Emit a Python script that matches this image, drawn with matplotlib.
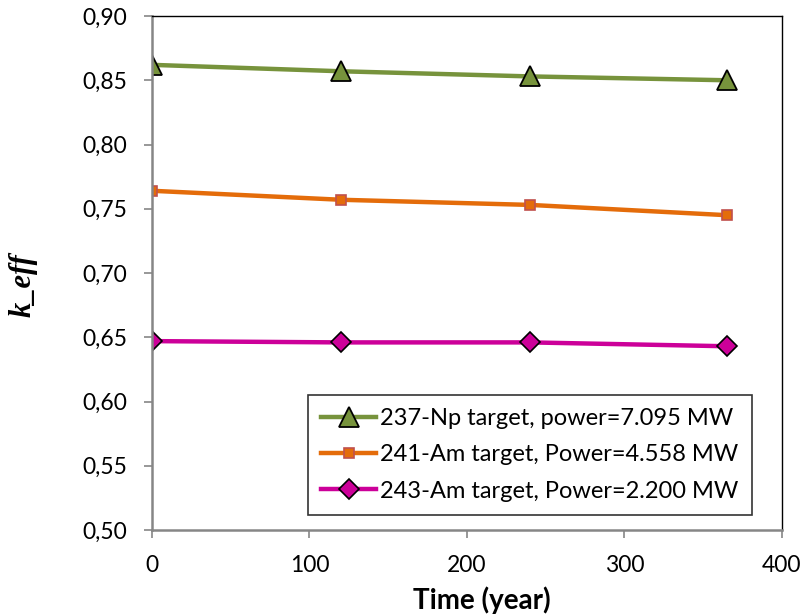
import matplotlib.pyplot as plt
import numpy as np

plt.rcParams['font.family'] = ['Lato', 'DejaVu Sans']

## Data
time = [0, 120, 240, 365]
np237 = [0.862, 0.857, 0.853, 0.850]
am241 = [0.764, 0.757, 0.753, 0.745]
am243 = [0.647, 0.646, 0.646, 0.643]
labels = ['237-Np target, power=7.095 MW',
          '241-Am target, Power=4.558 MW',
          '243-Am target, Power=2.200 MW']

fig = plt.figure(figsize=(8.05, 6.16), dpi=100)
ax = fig.add_axes([0.1888, 0.1396, 0.7826, 0.8344])

ax.plot(time, np237, color='#77933C', lw=3.2, marker='^', ms=14,
        mfc='#77933C', mec='black', mew=1.3, label=labels[0])
ax.plot(time, am241, color='#E46C0A', lw=3.2, marker='s', ms=7.5,
        mfc='#E46C0A', mec='#C0504D', mew=1.2, label=labels[1])
ax.plot(time, am243, color='#CC0099', lw=3.2, marker='D', ms=10,
        mfc='#CC0099', mec='black', mew=1.2, label=labels[2])

ax.set_xlim(0, 400)
ax.set_ylim(0.50, 0.90)
ax.set_xticks(np.arange(0, 401, 100))
ax.set_yticks(np.arange(0.50, 0.901, 0.05))
ax.set_yticklabels([('%.2f' % v).replace('.', ',') for v in np.arange(0.50, 0.901, 0.05)])
ax.tick_params(axis='both', labelsize=16.5, length=6, width=1.2, color='#868686',
               direction='out')
ax.tick_params(axis='y', pad=12)
ax.tick_params(axis='x', pad=12)

for s in ['left', 'bottom']:
    ax.spines[s].set_color('#868686')
    ax.spines[s].set_linewidth(1.8)
for s in ['top', 'right']:
    ax.spines[s].set_color('black')
    ax.spines[s].set_linewidth(1.0)

ax.set_xlabel('Time (year)', fontsize=20, fontweight='bold', va='center')
ax.xaxis.set_label_coords(0.524, -0.136)
ax.set_ylabel('k_eff', fontsize=22, fontweight='bold', style='italic',
              family='Liberation Serif', va='center')
ax.yaxis.set_label_coords(-0.205, 0.477)

leg = ax.legend(loc='lower right', bbox_to_anchor=(0.952, 0.030), fontsize=17,
                frameon=True, fancybox=False, edgecolor='black', handlelength=2.3,
                handletextpad=0.2, borderpad=0.55, labelspacing=0.65, borderaxespad=0)
leg.get_frame().set_linewidth(1.2)

plt.savefig('out.png', dpi=100)
